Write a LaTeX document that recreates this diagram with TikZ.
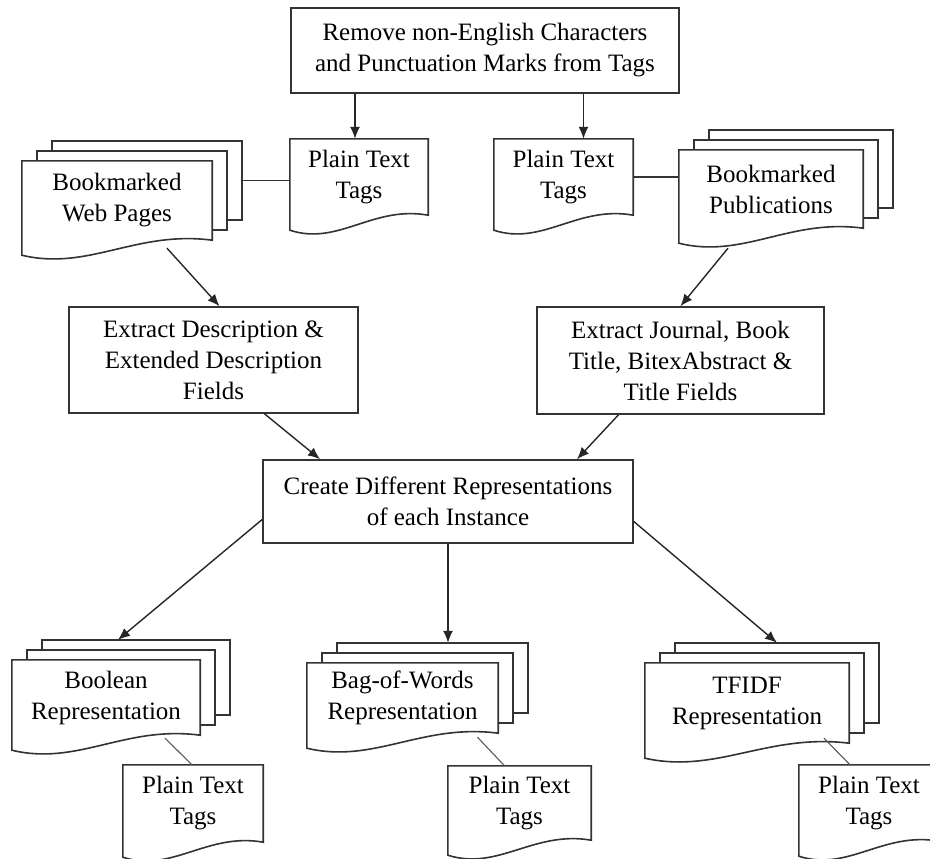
\documentclass[tikz,border=0pt]{standalone}
\usepackage{fontspec}
\setmainfont{Liberation Serif}
\usetikzlibrary{arrows.meta,calc}
\pgfdeclarelayer{background}
\pgfsetlayers{background,main}

\tikzset{
    box/.style={draw=black!80,line width=1.6pt,fill=white,align=center,inner sep=0pt,font=\fontsize{25}{31}\selectfont},
    doc/.style={align=center,inner sep=0pt,font=\fontsize{25}{31}\selectfont},
    page/.style={draw=black!80,line width=1.6pt,fill=white},
    arr/.style={line width=1.4pt,black!85,-{Latex[length=12pt,width=10pt]}},
    link/.style={line width=1.4pt,black!80},
    thinlink/.style={line width=1.1pt,black!65},
}

% outline of a document node (wavy bottom)
\newcommand{\docshape}[1]{%
    \begin{pgfonlayer}{background}
    \draw[page] (#1.south east) -- (#1.north east) -- (#1.north west) -- ($(#1.south west)+(0,15)$)
        .. controls ($(#1.south west)!0.35!(#1.south east)+(0,31)$) and ($(#1.south west)!0.6!(#1.south east)+(0,-10)$) .. (#1.south east) -- cycle;
    \end{pgfonlayer}}

% stack of documents
\newcommand{\docstack}[1]{%
    \begin{pgfonlayer}{background}
    \foreach \s in {30,15}
        \draw[page] ($(#1.north west)+({\s},{-\s*2/3})$) rectangle ($(#1.south east)+({\s},{-\s*2/3})$);
    \end{pgfonlayer}
    \docshape{#1}
    \coordinate (#1-top) at ($(#1.north)+(30,-20)$);
    \coordinate (#1-east) at ($(#1.east)+(30,-20)$);}

\begin{document}
\begin{tikzpicture}[x=1pt,y=-1pt]

\useasboundingbox (0,0) rectangle (930,859);

% Top
\node[box,minimum width=388pt,minimum height=85pt] (top) at (485,50.5) {Remove non-English Characters\\and Punctuation Marks from Tags};

% Tags and bookmarks
\node[doc,minimum width=138pt,minimum height=76pt] (ptl) at (359,177) {Plain Text\\Tags};
\docshape{ptl}
\node[doc,minimum width=139pt,minimum height=76pt] (ptr) at (563.5,177) {Plain Text\\Tags};
\docshape{ptr}
\node[doc,minimum width=190pt,minimum height=79pt] (web) at (117,200.5) {Bookmarked\\Web Pages};
\docstack{web}
\node[doc,minimum width=184pt,minimum height=78pt] (pub) at (771,189) {Bookmarked\\Publications};
\docstack{pub}

% Extraction
\node[box,minimum width=289pt,minimum height=106pt] (exd) at (213.5,360) {Extract Description \&\\Extended Description\\Fields};
\node[box,minimum width=287pt,minimum height=107pt] (exj) at (680.5,360.5) {Extract Journal, Book\\Title, BitexAbstract \&\\Title Fields};

% Representations
\node[box,minimum width=370pt,minimum height=83pt] (cre) at (448,501.5) {Create Different Representations\\of each Instance};

\node[doc,minimum width=188pt,minimum height=75pt] (boo) at (106,697.5) {Boolean\\Representation};
\docstack{boo}
\node[doc,minimum width=191pt,minimum height=70pt] (bag) at (402.5,698) {Bag-of-Words\\Representation};
\docstack{bag}
\node[doc,minimum width=204pt,minimum height=80pt] (tfi) at (747,703) {TFIDF\\Representation};
\docstack{tfi}

\node[doc,minimum width=140pt,minimum height=77pt] (pt1) at (193,803.5) {Plain Text\\Tags};
\docshape{pt1}
\node[doc,minimum width=143pt,minimum height=74pt] (pt2) at (519.5,803) {Plain Text\\Tags};
\docshape{pt2}
\node[doc,minimum width=140pt,minimum height=76pt] (pt3) at (869,803) {Plain Text\\Tags};
\docshape{pt3}

% Connections
\coordinate (ptlin) at ($(ptl.north)+(-4,0)$);
\coordinate (ptrin) at ($(ptr.north)+(20,0)$);
\draw[arr] (ptlin |- top.south) -- (ptlin);
\draw[arr] (ptrin |- top.south) -- (ptrin);
\draw[link] (web-east) -- (web-east -| ptl.west);
\draw[link] (ptr.east) -- (ptr.east -| pub.west);

\draw[arr] ($(web.south)+(50,8)$) -- ($(exd.north)+(6,0)$);
\draw[arr] ($(pub.south)+(-43,20)$) -- ($(exj.north)+(0,0)$);
\draw[arr] ($(exd.south)+(51,0)$) -- ($(cre.north)+(-128,0)$);
\draw[arr] ($(exj.south)+(-62,0)$) -- ($(cre.north)+(129,0)$);

\draw[arr] ($(cre.west)+(0,18)$) -- ($(boo-top)+(-18,0)$);
\draw[arr] (cre.south) -- (cre.south |- bag-top);
\draw[arr] ($(cre.east)+(0,20)$) -- (tfi-top);

\draw[thinlink] ($(boo.south)+(59,3)$) -- ($(pt1.north)+(-1,0)$);
\draw[thinlink] ($(bag.south)+(75,4)$) -- ($(pt2.north)+(-15,0)$);
\draw[thinlink] ($(tfi.south)+(77,-5)$) -- ($(pt3.north)+(-19,0)$);

\end{tikzpicture}
\end{document}
